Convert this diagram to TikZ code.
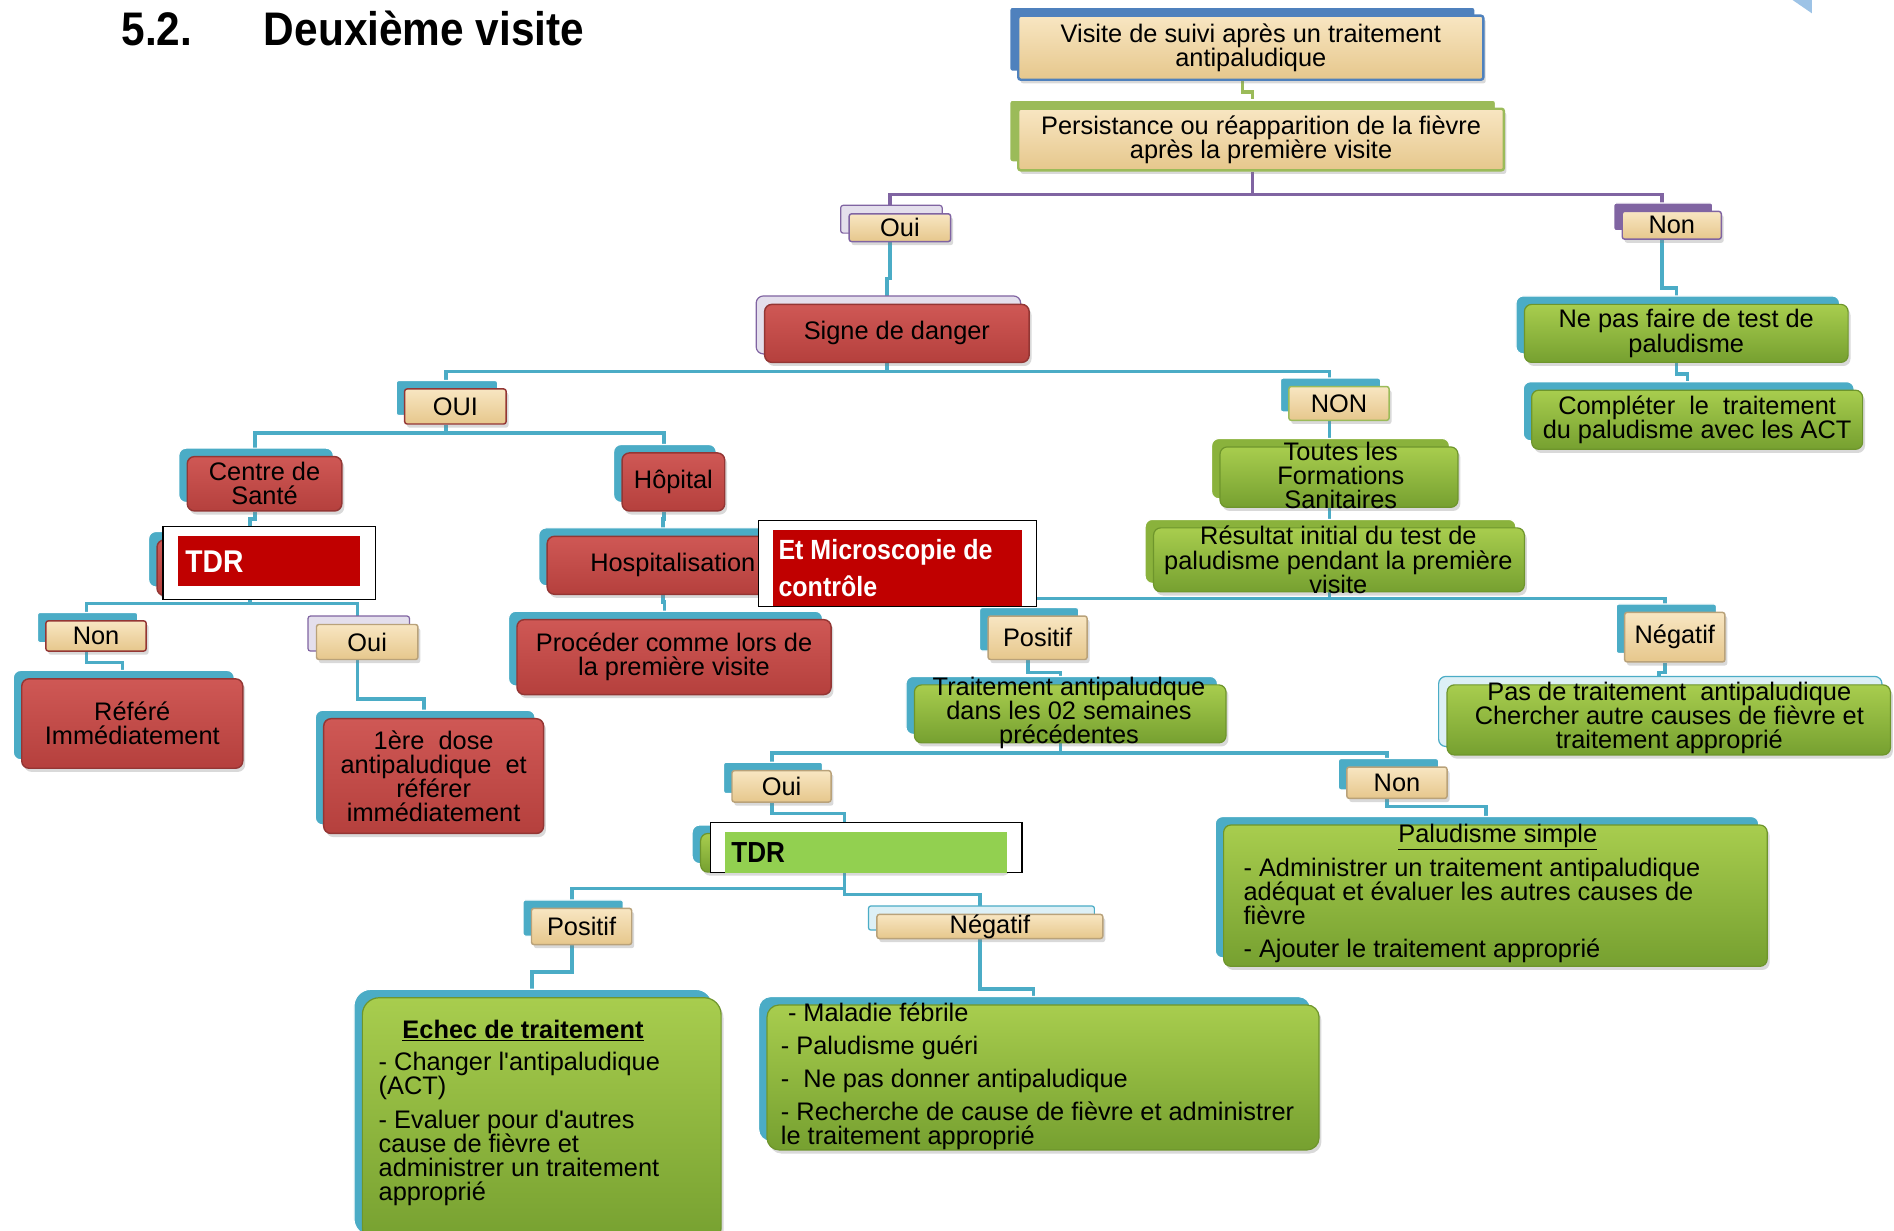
\documentclass[tikz,border=0pt]{standalone}
\usepackage{fontspec}
\setmainfont{Liberation Sans}
\newfontfamily\condfont[FakeStretch=0.9]{Liberation Sans}
\usepackage{tikz}
\usetikzlibrary{shadows,backgrounds,calc}
\definecolor{tealc}{HTML}{4BACC6}
\definecolor{purpc}{HTML}{8064A2}
\definecolor{lavc}{HTML}{E4DFEC}
\definecolor{bluec}{HTML}{4F81BD}
\definecolor{olivec}{HTML}{9BBB59}
\definecolor{greenm}{HTML}{8AB23C}
\definecolor{cyanl}{HTML}{DDF0F6}
\definecolor{tant}{HTML}{F8E6C2}
\definecolor{tanb}{HTML}{E6C78C}
\definecolor{tand}{HTML}{B9A27A}
\definecolor{redt}{HTML}{CF5855}
\definecolor{redb}{HTML}{B5403D}
\definecolor{redd}{HTML}{943634}
\definecolor{greent}{HTML}{A8CD4E}
\definecolor{greenb}{HTML}{76A030}
\definecolor{greend}{HTML}{6E952C}
\definecolor{redc}{HTML}{C00000}
\definecolor{greenc}{HTML}{92D050}
\definecolor{bluel}{HTML}{9DC3E6}

\begin{document}
\begin{tikzpicture}[x=1pt, y=-1pt, font=\fontsize{21}{20}\selectfont,
  every node/.style={align=center},
  lay/.style 2 args={general shadow={shadow xshift=-7pt, shadow yshift=7pt, fill=#1, draw=#2, line width=1pt}},
  dshadow/.style={drop shadow={shadow xshift=2pt, shadow yshift=-3pt, opacity=.3}},
  redbox/.style={rounded corners=6pt, inner sep=0pt, draw=redd, line width=1.2pt, top color=redt, bottom color=redb, dshadow},
  greenbox/.style={rounded corners=6pt, inner sep=0pt, draw=greend, line width=1pt, top color=greent, bottom color=greenb, dshadow},
  tanbox/.style={rounded corners=2pt, inner sep=0pt, draw=tand, line width=1.2pt, top color=tant, bottom color=tanb, dshadow},
  conn/.style={line width=3pt, tealc},
  tdrfont/.style={font=\condfont\bfseries\fontsize{#1}{31}\selectfont}]
  \useasboundingbox (0,0) rectangle (1568,1019);
  \clip (0,0) rectangle (1568,1019);

  % titre
  \node[anchor=base west, tdrfont=39] (num) at (97,38) {5.2.};
  \node[anchor=base west, tdrfont=39] (titre) at (215,38) {Deuxième visite};
  \fill[bluel] (1484,0) -- (1500,0) -- (1500,11) -- cycle;

  % premier niveau
  \node[tanbox, draw=bluec, line width=2pt, lay={bluec}{white}, minimum width=385pt, minimum height=53pt] (visite) at (1035.5,39.5) {Visite de suivi après un traitement\\antipaludique};
  \node[tanbox, draw=olivec, line width=2pt, lay={olivec}{white}, minimum width=402pt, minimum height=51pt] (persist) at (1044,115.5) {Persistance ou réapparition de la fièvre\\après la première visite};
  \node[tanbox, draw=purpc, lay={lavc}{purpc}, minimum width=84pt, minimum height=23pt] (oui1) at (745,188.5) {Oui};
  \node[tanbox, draw=purpc, lay={purpc}{white}, minimum width=82pt, minimum height=23pt] (non1) at (1384,186.5) {Non};

  % branche Non
  \node[greenbox, lay={tealc}{white}, minimum width=268pt, minimum height=48pt] (nepas) at (1396,276) {Ne pas faire de test de\\paludisme};
  \node[greenbox, lay={tealc}{white}, minimum width=274pt, minimum height=49pt] (complet) at (1405,347.5) {Compléter\ \ le\ \ traitement\\du paludisme avec les ACT};

  % signe de danger
  \node[redbox, lay={lavc}{purpc}, minimum width=219pt, minimum height=48pt] (signe) at (742.5,276) {Signe de danger};
  \node[tanbox, draw=redd, lay={tealc}{white}, minimum width=84pt, minimum height=29pt] (oui2) at (377,336.5) {OUI};
  \node[tanbox, draw=olivec, lay={tealc}{white}, minimum width=83pt, minimum height=28pt] (non2) at (1108.5,334) {NON};

  % OUI : centre de sante / hopital
  \node[redbox, lay={tealc}{white}, minimum width=128pt, minimum height=45pt] (centre) at (219,400.5) {Centre de\\Santé};
  \node[redbox, lay={tealc}{white}, minimum width=85pt, minimum height=48pt] (hopital) at (557.5,399) {Hôpital};
  \node[redbox, lay={tealc}{white}, minimum width=170pt, minimum height=46pt] (tdr1) at (215,470) {};
  \node[redbox, lay={tealc}{white}, minimum width=208pt, minimum height=48pt] (hospit) at (557,468) {Hospitalisation};
  \node[redbox, lay={tealc}{white}, minimum width=260pt, minimum height=62pt] (proceder) at (558,544) {Procéder comme lors de\\la première visite};
  \node[tanbox, draw=redd, lay={tealc}{white}, minimum width=83pt, minimum height=25pt] (non3) at (79.5,526.5) {Non};
  \node[tanbox, lay={lavc}{purpc}, minimum width=84pt, minimum height=29pt] (oui3) at (304,531.5) {Oui};
  \node[redbox, lay={tealc}{white}, minimum width=183pt, minimum height=74pt] (refere) at (109.5,599) {Référé\\Immédiatement};
  \node[redbox, lay={tealc}{white}, minimum width=182pt, minimum height=95pt] (dose) at (359,642.5) {1ère\ \ dose\\antipaludique\ \ et\\référer\\immédiatement};

  % NON : toutes les formations
  \node[greenbox, lay={greenm}{white}, minimum width=197pt, minimum height=50pt] (toutes) at (1108.5,395) {};
  \node (toutestxt) at (1110,393.5) {Toutes les\\Formations\\Sanitaires};
  \node[greenbox, lay={greenm}{white}, minimum width=307pt, minimum height=53pt] (resultat) at (1108.5,463.5) {};
  \node (resultattxt) at (1108,463.5) {Résultat initial du test de\\paludisme pendant la première\\visite};
  \node[tanbox, lay={tealc}{white}, minimum width=82pt, minimum height=36pt] (positif1) at (859,528) {Positif};
  \node[tanbox, lay={tealc}{white}, minimum width=83pt, minimum height=41pt] (negatif1) at (1386.5,527.5) {Négatif};
  \node[greenbox, lay={tealc}{white}, minimum width=258pt, minimum height=48pt] (traitement) at (886,591) {};
  \node (traitementtxt) at (885,590.5) {Traitement antipaludque\\dans les 02 semaines\\précédentes};
  \node[greenbox, lay={cyanl}{tealc}, minimum width=367pt, minimum height=58pt] (pasde) at (1381.5,596) {};
  \node (pasdetxt) at (1382,594.5) {Pas de traitement\ \ antipaludique\\Chercher autre causes de fièvre et\\traitement approprié};
  \node[tanbox, lay={tealc}{white}, minimum width=82pt, minimum height=26pt] (oui4) at (647,651) {Oui};
  \node[tanbox, lay={tealc}{white}, minimum width=83pt, minimum height=26pt] (non4) at (1156.5,648) {Non};
  \node[greenbox, lay={tealc}{white}, minimum width=254pt, minimum height=32pt] (tdr2) at (707,706) {};
  \node[greenbox, lay={tealc}{white}, minimum width=450pt, minimum height=117pt] (simple) at (1238,741.5) {};
  \node (simpletitre) at (1240,693) {\underline{Paludisme simple}};
  \node[anchor=west, align=left] (simpletxt) at (1026,753.5) {- Administrer un traitement antipaludique\\adéquat et évaluer les autres causes de\\fièvre\\[7pt]- Ajouter le traitement approprié};
  \node[tanbox, lay={tealc}{white}, minimum width=83pt, minimum height=30pt] (positif2) at (481.5,767) {Positif};
  \node[tanbox, lay={cyanl}{tealc}, minimum width=187pt, minimum height=20pt] (negatif2) at (819.5,767) {Négatif};
  \node[greenbox, rounded corners=14pt, lay={tealc}{white}, minimum width=297pt, minimum height=204pt] (echec) at (448.5,928) {};
  \node[font=\fontsize{21}{20}\selectfont\bfseries] (echectitre) at (433,853) {\underline{Echec de traitement}};
  \node[anchor=west, align=left] (echectxt) at (310,934.5) {- Changer l\textquotesingle antipaludique\\(ACT)\\[8pt]- Evaluer pour d\textquotesingle autres\\cause de fièvre et\\administrer un traitement\\approprié};
  \node[greenbox, rounded corners=10pt, lay={tealc}{white}, minimum width=457pt, minimum height=120pt] (maladie) at (863.5,892) {};
  \node[anchor=west, align=left] (maladietxt) at (643,891) {\ - Maladie fébrile\\[7.5pt]- Paludisme guéri\\[7.5pt]-\ \ Ne pas donner antipaludique\\[7.5pt]- Recherche de cause de fièvre et administrer\\le traitement approprié};

  % cadres blancs
  \node[draw=black, fill=white, line width=1pt, minimum width=176pt, minimum height=60pt] (tdr1w) at (223,466) {};
  \node[fill=redc, inner sep=0pt, minimum width=151pt, minimum height=41pt] (tdr1r) at (222.5,464.5) {};
  \node[anchor=west, text=white, tdrfont=26] at (150,465) {TDR};
  \node[draw=black, fill=white, line width=1pt, minimum width=230pt, minimum height=71pt] (microw) at (743,466.5) {};
  \node[fill=redc, inner sep=0pt, minimum width=206pt, minimum height=63pt] (micror) at (743,470.5) {};
  \node[anchor=west, align=left, text=white, tdrfont=23] at (641,470.5) {Et Microscopie de\\contrôle};
  \node[draw=black, fill=white, line width=1pt, minimum width=258pt, minimum height=41pt] (tdr2w) at (717,701.5) {};
  \node[fill=greenc, inner sep=0pt, minimum width=234pt, minimum height=34pt] (tdr2g) at (717,706) {};
  \node[anchor=west, tdrfont=24] at (602,706) {TDR};

  % liaisons
  \begin{scope}[on background layer]
    \draw[conn, olivec] ([xshift=-7pt]visite.south) -- ++(0,9) -| ([xshift=-7pt,yshift=7pt]persist.north);
    \draw[conn, purpc] ([xshift=-7pt]persist.south) -- ++(0,19) coordinate (b1) -| ([xshift=-8pt]oui1.north);
    \draw[conn, purpc] (b1) -| ([xshift=-8pt]non1.north);
    \draw[conn] ([xshift=-8pt]oui1.south) -- ++(0,30) -| ([xshift=-8pt]signe.north);
    \draw[conn] ([xshift=-8pt]non1.south) -- ++(0,40) -| ([xshift=-8pt]nepas.north);
    \draw[conn] ([xshift=-8pt]nepas.south) -- ++(0,9) -| ([xshift=-8pt]complet.north);
    \draw[conn] ([xshift=-8pt]signe.south) -- ++(0,7) coordinate (b2) -| ([xshift=-8pt]oui2.north);
    \draw[conn] (b2) -| ([xshift=-8pt]non2.north);
    \draw[conn] ([xshift=-8pt]oui2.south) -- ++(0,7) coordinate (b3) -| ([xshift=-8pt]centre.north);
    \draw[conn] (b3) -| ([xshift=-8pt]hopital.north);
    \draw[conn] ([xshift=-8pt]centre.south) -- ++(0,6) -| ([xshift=-8pt]tdr1.north);
    \draw[conn] ([xshift=-8pt]tdr1.south) -- ++(0,6) coordinate (b4) -| ([xshift=-8pt]non3.north);
    \draw[conn] (b4) -| ([xshift=-8pt]oui3.north);
    \draw[conn] ([xshift=-8pt]non3.south) -- ++(0,9) -| ([xshift=-8pt]refere.north);
    \draw[conn] ([xshift=-8pt]oui3.south) -- ++(0,32) -| ([xshift=-8pt]dose.north);
    \draw[conn] ([xshift=-8pt]hopital.south) -- ++(0,6) -| ([xshift=-8pt]hospit.north);
    \draw[conn] ([xshift=-8pt]hospit.south) -- ++(0,6) -| ([xshift=-8pt]proceder.north);
    \draw[conn] ([xshift=-8pt]non2.south) -- ([xshift=-8pt]toutes.north);
    \draw[conn] ([xshift=-8pt]toutes.south) -- ([xshift=-8pt]resultat.north);
    \draw[conn] ([xshift=-8pt]resultat.south) -- ++(0,5) coordinate (b5) -| ([xshift=-8pt]positif1.north);
    \draw[conn] (b5) -| ([xshift=-8pt]negatif1.north);
    \draw[conn] ([xshift=-8pt]positif1.south) -- ++(0,10) -| ([xshift=-8pt]traitement.north);
    \draw[conn] ([xshift=-8pt]negatif1.south) -- ++(0,8) -| ([xshift=-8pt]pasde.north);
    \draw[conn] ([xshift=-8pt]traitement.south) -- ++(0,8) coordinate (b6) -| ([xshift=-8pt]oui4.north);
    \draw[conn] (b6) -| ([xshift=-8pt]non4.north);
    \draw[conn] ([xshift=-8pt]oui4.south) -- ++(0,9) -| ([xshift=-8pt]tdr2.north);
    \draw[conn] ([xshift=-8pt]non4.south) -- ++(0,6) -| ([xshift=-8pt]simple.north);
    \draw[conn] ([xshift=-8pt]tdr2.south) -- ++(0,13) coordinate (b7) -| ([xshift=-8pt]positif2.north);
    \draw[conn] (b7) -- ++(0,5) -| ([xshift=-8pt]negatif2.north);
    \draw[conn] ([xshift=-8pt]positif2.south) -- ++(0,22) -| ([xshift=-8pt]echec.north);
    \draw[conn] ([xshift=-8pt]negatif2.south) -- ++(0,41) -| ([xshift=-8pt]maladie.north);
  \end{scope}
\end{tikzpicture}
\end{document}
